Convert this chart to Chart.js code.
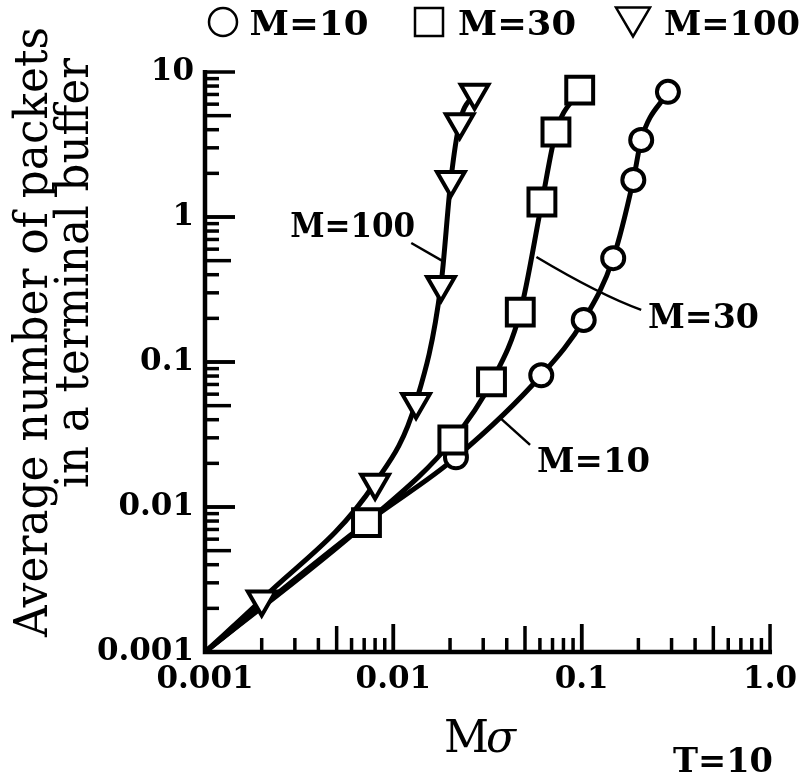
<!DOCTYPE html>
<html>
<head>
<meta charset="utf-8">
<script src="https://cdn.jsdelivr.net/npm/chart.js@4/dist/chart.umd.min.js"></script>
<style>
  html, body { margin: 0; padding: 0; background: #fff; }
  canvas { display: block; }
</style>
</head>
<body>
<canvas id="bufferChart" width="806" height="776"></canvas>
<script>
// ========== data ==========
const seriesNames = ["M=10", "M=30", "M=100"];
const startX = 0.001, startY = 0.001;   // all curves leave the corner

const m10X = [0.0072, 0.0215, 0.061, 0.1025, 0.147, 0.188, 0.207, 0.287];
const m10Y = [0.0078, 0.022, 0.081, 0.195, 0.52, 1.8, 3.4, 7.3];

const m30X = [0.0072, 0.0207, 0.0332, 0.0472, 0.0615, 0.073, 0.0976];
const m30Y = [0.0078, 0.029, 0.073, 0.221, 1.27, 3.86, 7.5];

const m100X = [0.002, 0.008, 0.0132, 0.0179, 0.0202, 0.0225, 0.027];
const m100Y = [0.0023, 0.0147, 0.053, 0.34, 1.8, 4.5, 7.2];

const xTickValues = [0.001, 0.01, 0.1, 1];
const xTickLabels = ["0.001", "0.01", "0.1", "1.0"];
const yTickValues = [0.001, 0.01, 0.1, 1, 10];
const yTickLabels = ["0.001", "0.01", "0.1", "1", "10"];

// curve labels and their leader lines, in data units
const notes = [
  { text: "M=100", x: 0.00608, y: 0.728, w: 125, from: [0.01245, 0.662], to: [0.0186, 0.49] },
  { text: "M=30", x: 0.443, y: 0.171, w: 111, from: [0.0575, 0.53], to: [0.207, 0.229], ctrl: [0.125, 0.29] },
  { text: "M=10", x: 0.1156, y: 0.0174, w: 113, from: [0.037, 0.041], to: [0.0532, 0.0268] }
];

const SERIF = "'DejaVu Serif', 'Liberation Serif', serif";

function pts(xs, ys) {
  return xs.map((x, i) => ({ x: x, y: ys[i] }));
}

// draw text centred at x, squeezed/stretched to a given width
function fitText(ctx, text, x, y, width, font) {
  ctx.font = font;
  const w = ctx.measureText(text).width;
  ctx.save();
  ctx.translate(x, y);
  ctx.scale(width / w, 1);
  ctx.textAlign = "center";
  ctx.textBaseline = "alphabetic";
  ctx.fillText(text, 0, 0);
  ctx.restore();
}

function markerPath(ctx, kind, cx, cy, r) {
  ctx.beginPath();
  if (kind === "circle") {
    ctx.arc(cx, cy, r, 0, Math.PI * 2);
  } else if (kind === "square") {
    ctx.rect(cx - r, cy - r, 2 * r, 2 * r);
  } else {
    ctx.moveTo(cx - r, cy - r * 0.85);
    ctx.lineTo(cx + r, cy - r * 0.85);
    ctx.lineTo(cx, cy + r * 0.85);
    ctx.closePath();
  }
}

// ========== axes, inward ticks, texts ==========
const decoPlugin = {
  id: "deco",
  beforeDatasetsDraw(chart) {
    const { ctx, scales: { x, y } } = chart;
    ctx.save();
    ctx.strokeStyle = "#000";
    ctx.lineWidth = 4.5;
    ctx.beginPath();
    ctx.moveTo(x.left, y.top - 2);
    ctx.lineTo(x.left, y.bottom);
    ctx.lineTo(x.right + 2, y.bottom);
    ctx.stroke();

    ctx.lineWidth = 3.5;
    const tickLen = k => (k === 1 || k === 10) ? 28 : (k === 5 ? 26 : 14);
    // bottom axis
    for (let d = -3; d < 0; d++) {
      for (let k = 1; k <= 10; k++) {
        const px = x.getPixelForValue(k * Math.pow(10, d));
        ctx.beginPath();
        ctx.moveTo(px, y.bottom);
        ctx.lineTo(px, y.bottom - tickLen(k));
        ctx.stroke();
      }
    }
    // left axis
    for (let d = -3; d < 1; d++) {
      for (let k = 1; k <= 10; k++) {
        const py = y.getPixelForValue(k * Math.pow(10, d));
        const len = (k === 1 || k === 10) ? 30 : tickLen(k);
        ctx.beginPath();
        ctx.moveTo(x.left, py);
        ctx.lineTo(x.left + len, py);
        ctx.stroke();
      }
    }
    ctx.restore();
  },
  afterDatasetsDraw(chart) {
    const { ctx, scales: { x, y } } = chart;
    ctx.save();
    ctx.fillStyle = "#000";
    ctx.strokeStyle = "#000";

    // leader lines + curve labels
    ctx.lineWidth = 2.5;
    notes.forEach(n => {
      const x0 = x.getPixelForValue(n.from[0]), y0 = y.getPixelForValue(n.from[1]);
      const x1 = x.getPixelForValue(n.to[0]), y1 = y.getPixelForValue(n.to[1]);
      ctx.beginPath();
      ctx.moveTo(x0, y0);
      if (n.ctrl) {
        ctx.quadraticCurveTo(x.getPixelForValue(n.ctrl[0]), y.getPixelForValue(n.ctrl[1]), x1, y1);
      } else {
        ctx.lineTo(x1, y1);
      }
      ctx.stroke();
      fitText(ctx, n.text, x.getPixelForValue(n.x), y.getPixelForValue(n.y), n.w, "bold 34px " + SERIF);
    });

    // legend row
    const legend = [
      { kind: "circle", cx: 223, r: 14, tx: 309, tw: 119 },
      { kind: "square", cx: 429, r: 14, tx: 517, tw: 118 },
      { kind: "triangle", cx: 633, r: 17, tx: 732, tw: 136 }
    ];
    ctx.lineWidth = 2.5;
    legend.forEach((l, i) => {
      markerPath(ctx, l.kind, l.cx, 22, l.r);
      ctx.stroke();
      fitText(ctx, seriesNames[i], l.tx, 35, l.tw, "bold 34px " + SERIF);
    });

    // y title (two lines, rotated)
    ctx.save();
    ctx.translate(47, 332);
    ctx.rotate(-Math.PI / 2);
    fitText(ctx, "Average number of packets", 0, 0, 610, "46px " + SERIF);
    ctx.restore();
    ctx.save();
    ctx.translate(88, 273);
    ctx.rotate(-Math.PI / 2);
    fitText(ctx, "in a terminal buffer", 0, 0, 430, "46px " + SERIF);
    ctx.restore();

    // x title  M + italic sigma
    ctx.textBaseline = "alphabetic";
    ctx.textAlign = "left";
    ctx.font = "44px " + SERIF;
    ctx.fillText("M", 444, 752);
    ctx.font = "italic 44px " + SERIF;
    ctx.fillText("σ", 486, 752);

    fitText(ctx, "T=10", 723, 772, 100, "bold 34px " + SERIF);
    ctx.restore();
  }
};

// ========== chart ==========
const lineBase = {
  type: "line",
  showLine: true,
  borderColor: "#000",
  borderWidth: 5,
  pointRadius: 0,
  fill: false,
  cubicInterpolationMode: "monotone",
  clip: false
};
const markBase = {
  type: "scatter",
  showLine: false,
  borderColor: "#000",
  backgroundColor: "#fff",
  borderWidth: 4,
  clip: false
};

const ctx = document.getElementById("bufferChart").getContext("2d");
new Chart(ctx, {
  data: {
    datasets: [
      Object.assign({}, markBase, { label: seriesNames[2], data: pts(m100X, m100Y), pointStyle: "triangle", rotation: 180, pointRadius: 16, order: 1 }),
      Object.assign({}, markBase, { label: seriesNames[1], data: pts(m30X, m30Y), pointStyle: "rect", pointRadius: 19, order: 2 }),
      Object.assign({}, markBase, { label: seriesNames[0], data: pts(m10X, m10Y), pointStyle: "circle", pointRadius: 11, order: 3 }),
      Object.assign({}, lineBase, { label: seriesNames[2] + " curve", data: [{ x: startX, y: startY }].concat(pts(m100X, m100Y)), order: 4 }),
      Object.assign({}, lineBase, { label: seriesNames[1] + " curve", data: [{ x: startX, y: startY }].concat(pts(m30X, m30Y)), order: 5 }),
      Object.assign({}, lineBase, { label: seriesNames[0] + " curve", data: [{ x: startX, y: startY }].concat(pts(m10X, m10Y)), order: 6 })
    ]
  },
  options: {
    responsive: false,
    animation: false,
    layout: { padding: { left: 10, right: 29, top: 72, bottom: 64 } },
    plugins: {
      legend: { display: false },
      tooltip: { enabled: false }
    },
    scales: {
      x: {
        type: "logarithmic",
        min: 0.001,
        max: 1,
        grid: { display: false, drawTicks: false },
        border: { display: false },
        afterBuildTicks: s => { s.ticks = xTickValues.map(v => ({ value: v })); },
        afterFit: s => { s.height = 60; },
        ticks: {
          autoSkip: false,
          maxRotation: 0,
          padding: 9,
          color: "#000",
          font: { family: SERIF, size: 31, weight: "bold" },
          callback: (v, i) => xTickLabels[i]
        }
      },
      y: {
        type: "logarithmic",
        min: 0.001,
        max: 10,
        grid: { display: false, drawTicks: false },
        border: { display: false },
        afterBuildTicks: s => { s.ticks = yTickValues.map(v => ({ value: v })); },
        afterFit: s => { s.width = 195; },
        ticks: {
          autoSkip: false,
          padding: 11,
          color: "#000",
          font: { family: SERIF, size: 31, weight: "bold" },
          callback: (v, i) => yTickLabels[i]
        }
      }
    }
  },
  plugins: [decoPlugin]
});
</script>
</body>
</html>
